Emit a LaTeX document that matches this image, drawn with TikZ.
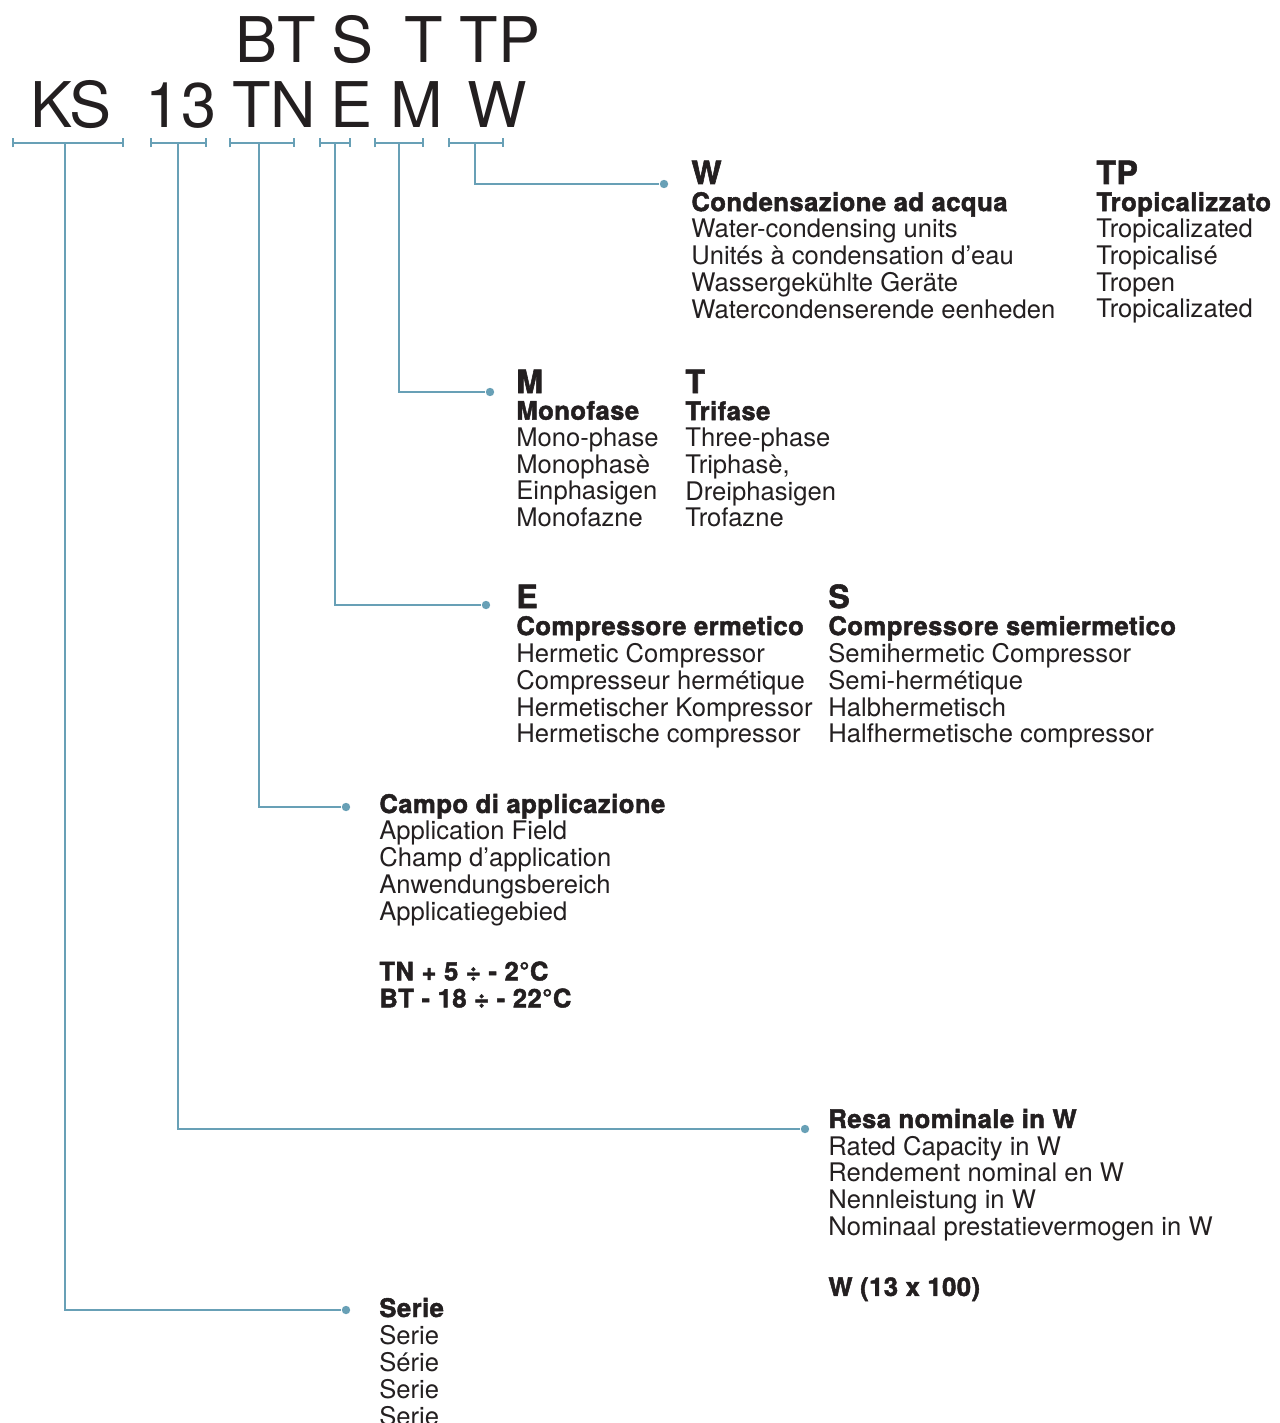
\documentclass[tikz,border=0pt]{standalone}
\usepackage{fontspec}
\setmainfont{TeX Gyre Heros}[BoldFeatures={FakeBold=1.8,LetterSpace=1.8}]
\usepackage{xcolor}
\usetikzlibrary{arrows.meta}
\definecolor{ln}{RGB}{104,160,182}
\definecolor{ink}{RGB}{35,31,32}

\tikzset{
  big/.style={anchor=base,inner sep=0pt,text=ink,font=\fontsize{31.5}{32}\selectfont},
  txt/.style={anchor=base west,inner sep=0pt,text=ink,
    font=\fontsize{12.8}{13.35}\selectfont},
  dot/.style={circle,fill=ln,inner sep=0pt,minimum size=4.2pt},
  conn/.style={draw=ln,line width=1pt},
  brk/.style={conn,{Bar[width=4.5pt]}-{Bar[width=4.5pt]}}
}
\newcommand{\hd}[1]{{\fontsize{16}{13.35}\selectfont\bfseries #1}}
\newcommand{\blk}[1]{\begin{tabular}[t]{@{}l@{}}#1\end{tabular}}

\begin{document}
\begin{tikzpicture}[x=0.5pt,y=-0.5pt]
    \useasboundingbox (0,0) rectangle (1279,1423);
    %% code letters
    \node[big] (ks) at (71,128) {KS};
    \node[big] (n13) at (181,128) {13};
    \node[big] (tn) at (274,128) {TN};
    \node[big] (e) at (351.5,128) {E};
    \node[big] (m) at (417,128) {M};
    \node[big] (w) at (497.5,128) {W};
    \node[big] (bt) at (275.5,63) {BT};
    \node[big] (s) at (352.5,63) {S};
    \node[big] (t) at (423.5,63) {T};
    \node[big] (tp) at (500,63) {TP};
    %% brackets under the letters
    \foreach \nm/\l/\r/\c in {ks/12/124/65,n13/150/207/178,tn/229/295/259,
                              e/319/351/335,m/374/424/399,w/448/504/475}{
      \draw[brk] (\l,143) -- (\r,143);
      \coordinate (\nm-s) at (\c,143);
    }
    %% dots
    \node[dot] (wD) at (664,184) {};
    \node[dot] (mD) at (490,392) {};
    \node[dot] (eD) at (486,605) {};
    \node[dot] (tnD) at (346,807) {};
    \node[dot] (n13D) at (805,1129) {};
    \node[dot] (ksD) at (346,1310) {};
    \draw[conn] (w-s) |- (wD);
    \draw[conn] (m-s) |- (mD);
    \draw[conn] (e-s) |- (eD);
    \draw[conn] (tn-s) |- (tnD);
    \draw[conn] (n13-s) |- (n13D);
    \draw[conn] (ks-s) |- (ksD);
    %% texts
    \node[txt] (wTxt) at (691,184) {\blk{\hd{W}\\\textbf{Condensazione ad acqua}\\
      Water-condensing units\\Unités à condensation d’eau\\
      Wassergekühlte Geräte\\Watercondenserende eenheden}};
    \node[txt] (tpTxt) at (1096,184) {\blk{\hd{TP}\\\textbf{Tropicalizzato}\\
      Tropicalizated\\Tropicalisé\\Tropen\\Tropicalizated}};
    \node[txt] (mTxt) at (516,393) {\blk{\hd{M}\\\textbf{Monofase}\\
      Mono-phase\\Monophasè\\Einphasigen\\Monofazne}};
    \node[txt] (tTxt) at (685,393) {\blk{\hd{T}\\\textbf{Trifase}\\
      Three-phase\\Triphasè,\\Dreiphasigen\\Trofazne}};
    \node[txt] (eTxt) at (516,608) {\blk{\hd{E}\\\textbf{Compressore ermetico}\\
      Hermetic Compressor\\Compresseur hermétique\\
      Hermetischer Kompressor\\Hermetische compressor}};
    \node[txt] (sTxt) at (828,608) {\blk{\hd{S}\\\textbf{Compressore semiermetico}\\
      Semihermetic Compressor\\Semi-hermétique\\
      Halbhermetisch\\Halfhermetische compressor}};
    \node[txt] (tnTxt) at (379,813) {\blk{\textbf{Campo di applicazione}\\
      Application Field\\Champ d’application\\Anwendungsbereich\\
      Applicatiegebied\\[16.6pt]\textbf{TN + 5 ÷ - 2°C}\\\textbf{BT - 18 ÷ - 22°C}}};
    \node[txt] (n13Txt) at (828,1128) {\blk{\textbf{Resa nominale in W}\\
      Rated Capacity in W\\Rendement nominal en W\\Nennleistung in W\\
      Nominaal prestatievermogen in W\\[17pt]\textbf{W (13 x 100)}}};
    \node[txt] (ksTxt) at (379,1317) {\blk{\textbf{Serie}\\Serie\\Série\\Serie\\Serie}};
  \end{tikzpicture}
\end{document}
